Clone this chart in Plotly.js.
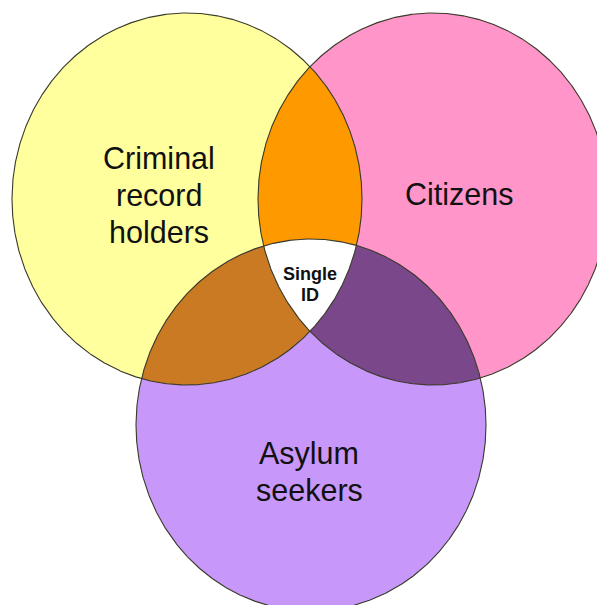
<!DOCTYPE html>
<html>
<head>
<meta charset="utf-8">
<script src="https://cdn.plot.ly/plotly-3.0.1.min.js"></script>
<style>html,body{margin:0;padding:0;background:#fff;}#chart{width:597px;height:605px;}</style>
</head>
<body>
<div id="chart"></div>
<script>
// Sets (ellipse centres and radii, in pixel units)
const setNames = ["Criminal record holders", "Citizens", "Asylum seekers"];
const centerX = [187, 433, 311];
const centerY = [199, 199, 425];
const radiusX = [175, 175, 175];
const radiusY = [186, 186, 186];
const setColors = ["#FFFF9E", "#FF95C8", "#C897FA"];

// Overlap regions: pairs of set indices and their colours
const pairSets = [[0, 1], [0, 2], [1, 2]];
const pairColors = ["#FF9900", "#C97A22", "#7A478A"];
const tripleColor = "#FFFFFF";

// Label lines
const labelLines = ["Criminal", "record", "holders", "Citizens", "Asylum", "seekers"];
const labelX = [159, 159, 159, 459, 309, 309];
const labelY = [158, 195, 232, 194, 453, 490];
const coreLines = ["Single", "ID"];
const coreX = [310, 310];
const coreY = [274, 295];

const N = 1440;
function ellipsePoints(i) {
  const xs = [], ys = [];
  for (let k = 0; k <= N; k++) {
    const t = 2 * Math.PI * k / N;
    xs.push(centerX[i] + radiusX[i] * Math.cos(t));
    ys.push(centerY[i] + radiusY[i] * Math.sin(t));
  }
  return [xs, ys];
}
function inside(i, x, y) {
  const a = (x - centerX[i]) / radiusX[i], b = (y - centerY[i]) / radiusY[i];
  return a * a + b * b <= 1 + 1e-9;
}
function regionPoints(sets) {
  const pts = [];
  sets.forEach(i => {
    const [xs, ys] = ellipsePoints(i);
    for (let k = 0; k < xs.length; k++) {
      if (sets.every(j => j === i || inside(j, xs[k], ys[k]))) pts.push([xs[k], ys[k]]);
    }
  });
  const mx = pts.reduce((s, p) => s + p[0], 0) / pts.length;
  const my = pts.reduce((s, p) => s + p[1], 0) / pts.length;
  pts.sort((p, q) => Math.atan2(p[1] - my, p[0] - mx) - Math.atan2(q[1] - my, q[0] - mx));
  pts.push(pts[0]);
  return [pts.map(p => p[0]), pts.map(p => p[1])];
}

const traces = [];
setNames.forEach((n, i) => {
  const [xs, ys] = ellipsePoints(i);
  traces.push({x: xs, y: ys, type: "scatter", mode: "lines", fill: "toself",
    fillcolor: setColors[i], line: {width: 0, color: setColors[i]}, hoverinfo: "skip", name: n});
});
pairSets.forEach((p, k) => {
  const [xs, ys] = regionPoints(p);
  traces.push({x: xs, y: ys, type: "scatter", mode: "lines", fill: "toself",
    fillcolor: pairColors[k], line: {width: 0, color: pairColors[k]}, hoverinfo: "skip"});
});
{
  const [xs, ys] = regionPoints([0, 1, 2]);
  traces.push({x: xs, y: ys, type: "scatter", mode: "lines", fill: "toself",
    fillcolor: tripleColor, line: {width: 0, color: tripleColor}, hoverinfo: "skip"});
}
setNames.forEach((n, i) => {
  const [xs, ys] = ellipsePoints(i);
  traces.push({x: xs, y: ys, type: "scatter", mode: "lines",
    line: {width: 1.1, color: "#3a3a2a"}, hoverinfo: "skip"});
});

const annotations = labelLines.map((t, i) => ({
  x: labelX[i], y: labelY[i], xref: "x", yref: "y", text: t, showarrow: false,
  xanchor: "center", yanchor: "middle",
  font: {family: "Liberation Sans, Arial, sans-serif", size: 30.5, color: "#111111"}
}));
coreLines.forEach((t, i) => annotations.push({x: coreX[i], y: coreY[i], xref: "x", yref: "y",
  text: "<b>" + t + "</b>", showarrow: false, xanchor: "center", yanchor: "middle",
  font: {family: "Liberation Sans, Arial, sans-serif", size: 18, color: "#111111"}}));

const layout = {
  width: 597, height: 605,
  margin: {l: 0, r: 0, t: 0, b: 0},
  paper_bgcolor: "#ffffff", plot_bgcolor: "#ffffff",
  showlegend: false,
  xaxis: {range: [0, 597], visible: false, fixedrange: true},
  yaxis: {range: [605, 0], visible: false, fixedrange: true},
  annotations: annotations
};
Plotly.newPlot("chart", traces, layout, {displayModeBar: false, staticPlot: true});
</script>
</body>
</html>
